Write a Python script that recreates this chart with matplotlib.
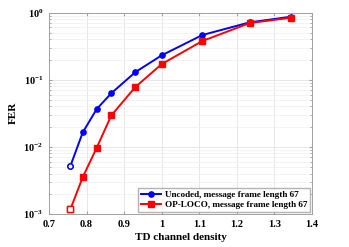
"""FER vs TD channel density, uncoded vs OP-LOCO."""

import matplotlib
matplotlib.use("Agg")
import matplotlib.pyplot as plt
from matplotlib.ticker import LogLocator, NullFormatter

density = [0.757, 0.790, 0.827, 0.866, 0.930, 1.000, 1.108, 1.234, 1.343]
fer_uncoded = [0.0052, 0.0165, 0.0366, 0.063, 0.130, 0.231, 0.463, 0.715, 0.867]
fer_oploco = [0.00118, 0.00356, 0.0097, 0.0295, 0.078, 0.171, 0.377, 0.698, 0.837]

LABELS = [
    "Uncoded, message frame length 67",
    "OP-LOCO, message frame length 67",
]
COLORS = ["#0000FF", "#FF0000"]
MARKERS = ["o", "s"]

plt.rcParams.update(
    {
        "font.family": ["Liberation Serif", "DejaVu Serif"],
        "font.weight": "bold",
        "mathtext.fontset": "custom",
        "mathtext.rm": "Liberation Serif:bold",
        "mathtext.it": "Liberation Serif:bold",
        "mathtext.bf": "Liberation Serif:bold",
    }
)

fig = plt.figure(figsize=(3.49, 2.47), dpi=100)
ax = fig.add_axes([0.1404, 0.1336, 0.7536, 0.8154])

for series, color, marker, label in zip(
    [fer_uncoded, fer_oploco], COLORS, MARKERS, LABELS
):
    ax.plot(
        density,
        series,
        color=color,
        marker=marker,
        markersize=3.8,
        linewidth=1.4,
        label=label,
    )
    # first point drawn hollow, as in the source
    ax.plot(
        density[:1],
        series[:1],
        linestyle="none",
        marker=marker,
        markersize=3.8,
        markerfacecolor="white",
        markeredgecolor=color,
        markeredgewidth=1.0,
    )

ax.set_yscale("log")
ax.set_xlim(0.7, 1.4)
ax.set_ylim(1e-3, 1)
ax.set_xticks([0.7, 0.8, 0.9, 1.0, 1.1, 1.2, 1.3, 1.4])
ax.set_xticklabels(["0.7", "0.8", "0.9", "1", "1.1", "1.2", "1.3", "1.4"])
ax.yaxis.set_major_locator(LogLocator(base=10, numticks=10))
ax.yaxis.set_minor_locator(LogLocator(base=10, subs=range(2, 10), numticks=10))
ax.yaxis.set_minor_formatter(NullFormatter())

ax.grid(which="major", color="#E3E3E3", linewidth=0.6)
ax.grid(which="minor", axis="y", color="#EFEFEF", linewidth=0.5)
ax.set_axisbelow(True)

for spine in ax.spines.values():
    spine.set_color("#A0A0A0")
    spine.set_linewidth(0.7)
ax.tick_params(
    which="both",
    direction="in",
    top=True,
    right=True,
    labelsize=7.5,
    color="#A0A0A0",
    length=2.5,
    pad=4,
)
ax.tick_params(which="minor", length=1.5)

ax.set_xlabel("TD channel density", fontsize=8, fontweight="bold", labelpad=3)
ax.set_ylabel("FER", fontsize=8, fontweight="bold", labelpad=4)

ax.legend(
    loc="lower right",
    frameon=True,
    fancybox=False,
    edgecolor="#A0A0A0",
    borderpad=0.3,
    labelspacing=0.2,
    handlelength=2.2,
    handletextpad=0.4,
    borderaxespad=0.2,
    prop={"weight": "bold", "size": 6.6},
)

fig.savefig("out.png", dpi=100)
